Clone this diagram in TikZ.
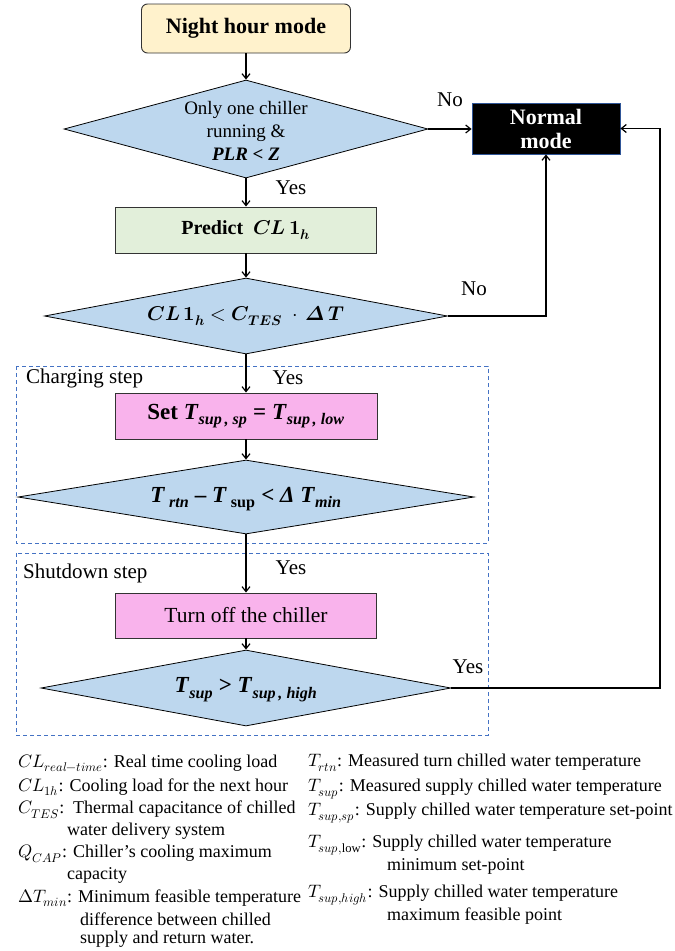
\documentclass[tikz,border=0pt]{standalone}
\usepackage{fontspec}
\usepackage{unicode-math}
\setmainfont{Liberation Serif}
\setmathfont{Latin Modern Math}
\usetikzlibrary{shapes.geometric,arrows.meta}
\definecolor{nightfill}{HTML}{FFF2CC}
\definecolor{diafill}{HTML}{BDD7EE}
\definecolor{predfill}{HTML}{E2EFDA}
\definecolor{pinkfill}{HTML}{F9B3EC}
\definecolor{dashblue}{HTML}{4472C4}
\definecolor{normborder}{HTML}{2F5597}
\tikzset{
  procbox/.style={draw=black!80, line width=0.9pt, inner sep=0pt},
  dia/.style={diamond, draw=black, line width=0.8pt, fill=diafill, inner sep=0pt},
  arr/.style={line width=1.4pt, -{Straight Barb[length=5pt,width=8pt,line width=1.2pt]}},
  lbl/.style={font=\fontsize{21}{25}\selectfont, inner sep=0pt},
  steplbl/.style={font=\fontsize{21}{25}\selectfont, inner sep=0pt, anchor=west},
  stepframe/.style={draw=dashblue, line width=0.7pt, dash pattern=on 4pt off 3pt},
  lgd/.style={font=\fontsize{18}{21}\selectfont, inner sep=0pt, anchor=west},
  big/.style={font=\fontsize{22}{26}\selectfont\bfseries},
  cond/.style={font=\fontsize{23}{27}\selectfont\bfseries, inner sep=0pt}
}
\begin{document}
\begin{tikzpicture}[x=1pt,y=-1pt]
\useasboundingbox (0,0) rectangle (675,951);
% step frames
\draw[stepframe] (16,366) rectangle (488,543);
\draw[stepframe] (16,553) rectangle (488,735);
\node[steplbl] (chg) at (26,378) {Charging step};
\node[steplbl] (shd) at (23,573) {Shutdown step};
% nodes
\node[procbox, rounded corners=6pt, fill=nightfill, minimum width=209pt, minimum height=49pt, big] (night) at (246,28.5) {Night hour mode};
\node[dia, minimum width=364pt, minimum height=98pt] (d1) at (246,129) {};
\node[align=center, inner sep=0pt, font=\fontsize{19}{23}\selectfont] (d1t) at (246,131) {Only one chiller\\running \&\\\textbf{\textit{PLR} < \textit{Z}}};
\node[draw=normborder, line width=0.8pt, fill=black, text=white, minimum width=148pt, minimum height=51pt, inner sep=0pt, align=center, font=\fontsize{22}{24}\selectfont\bfseries] (normal) at (546,128.5) {Normal\\mode};
\node[procbox, fill=predfill, minimum width=261pt, minimum height=46pt, font=\fontsize{20}{24}\selectfont\bfseries] (pred) at (246,230) {Predict\ \ $\symbfit{CL}\,\symbf{1}_{\symbfit{h}}$};
\node[dia, minimum width=403pt, minimum height=76pt] (d2) at (246,316) {};
\node[inner sep=0pt, font=\fontsize{20}{24}\selectfont] (d2t) at (d2) {$\symbfit{CL}\,\symbf{1}_{\symbfit{h}} < \symbfit{C}_{\symbfit{TES}}\;\symbf{\cdot}\,\symbfit{\Delta}\,\symbfit{T}$};
\node[procbox, fill=pinkfill, minimum width=262pt, minimum height=46pt, cond] (set) at (246,416) {Set \textit{T}\textsubscript{\textit{sup\,, sp}} = \textit{T}\textsubscript{\textit{sup\,, low}}};
\node[dia, minimum width=456pt, minimum height=74pt] (d3) at (246,497) {};
\node[cond] (d3t) at (246,499) {\textit{T}\,\textsubscript{\textit{rtn}} – \textit{T}\,\textsubscript{sup} < \textit{Δ T}\textsubscript{\textit{min}}};
\node[procbox, fill=pinkfill, minimum width=261pt, minimum height=45pt, font=\fontsize{21.5}{25}\selectfont] (off) at (246,615.5) {Turn off the chiller};
\node[dia, minimum width=410pt, minimum height=76pt] (d4) at (246,688) {};
\node[cond] (d4t) at (246,690) {\textit{T}\textsubscript{\textit{sup}} > \textit{T}\textsubscript{\textit{sup\,, high}}};
% connectors
\draw[arr] (night) -- (d1);
\draw[arr] (d1.east) -- (d1.east -| normal.west);
\draw[arr] (d1) -- (pred);
\draw[arr] (pred) -- (d2);
\draw[arr] (d2.east) -| (normal.south);
\draw[arr] (d2) -- (set);
\draw[arr] (set) -- (d3);
\draw[arr] (d3) -- (off);
\draw[arr] (off) -- (d4);
\coordinate (rc) at (660,688);
\draw[arr] (d4.east) -- (rc) |- (normal.east);
% branch labels
\node[lbl] (no1) at (450,100) {No};
\node[lbl] (yes1) at (291,188) {Yes};
\node[lbl] (no2) at (474,289) {No};
\node[lbl] (yes2) at (288,378) {Yes};
\node[lbl] (yes3) at (291,568) {Yes};
\node[lbl] (yes4) at (468,667) {Yes};
% legend left
\node[lgd] (l1) at (18,763) {$CL_{real-time}$: Real time cooling load};
\node[lgd] (l2) at (18,787) {$CL_{1h}$: Cooling load for the next hour};
\node[lgd] (l3) at (18,810) {$C_{TES}$:\ \ Thermal capacitance of chilled};
\node[lgd] (l3b) at (67,831) {water delivery system};
\node[lgd] (l4) at (18,854) {$Q_{CAP}$: Chiller's cooling maximum};
\node[lgd] (l4b) at (67,875) {capacity};
\node[lgd] (l5) at (18,898) {$\mitDelta T_{min}$: Minimum feasible temperature};
\node[lgd] (l5b) at (80,919) {difference between chilled};
\node[lgd] (l5c) at (80,939) {supply and return water.};
% legend right
\node[lgd] (r1) at (308,763) {$T_{rtn}$: Measured turn chilled water temperature};
\node[lgd] (r2) at (308,789) {$T_{sup}$: Measured supply chilled water temperature};
\node[lgd] (r3) at (308,813) {$T_{sup,sp}$: Supply chilled water temperature set-point};
\node[lgd] (r4) at (308,845) {$T_{sup,\mathrm{low}}$: Supply chilled water temperature};
\node[lgd] (r4b) at (387,866) {minimum set-point};
\node[lgd] (r5) at (308,895) {$T_{sup,high}$: Supply chilled water temperature};
\node[lgd] (r5b) at (387,916) {maximum feasible point};
\end{tikzpicture}
\end{document}
